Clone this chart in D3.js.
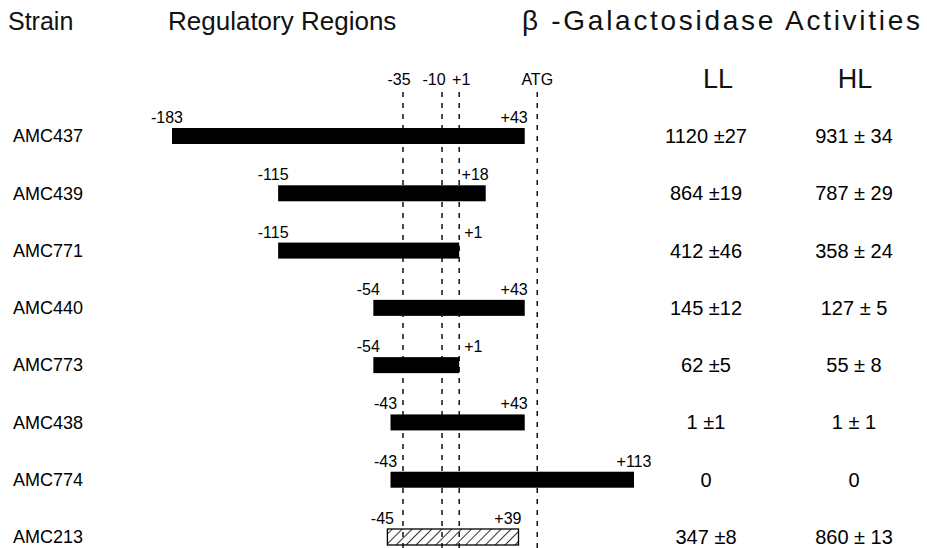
<!DOCTYPE html>
<html>
<head>
<meta charset="utf-8">
<script src="https://cdn.jsdelivr.net/npm/d3@7"></script>
<style>
  body { margin: 0; background: #fff; }
  svg { font-family: "Liberation Sans", Arial, Helvetica, sans-serif; }
</style>
</head>
<body>
<div id="chart"></div>
<script>
// data
const strains = ['AMC437', 'AMC439', 'AMC771', 'AMC440', 'AMC773', 'AMC438', 'AMC774', 'AMC213'];
const regionStart = [-183, -115, -115, -54, -54, -43, -43, -45];
const regionEnd = [43, 18, 1, 43, 1, 43, 113, 39];
const hatched = [false, false, false, false, false, false, false, true];
const llMean = [1120, 864, 412, 145, 62, 1, 0, 347];
const llSd = [27, 19, 46, 12, 5, 1, null, 8];
const hlMean = [931, 787, 358, 127, 55, 1, 0, 860];
const hlSd = [34, 29, 24, 5, 8, 1, null, 13];
const markers = [
  { label: '-35', pos: -35 },
  { label: '-10', pos: -10 },
  { label: '+1', pos: 1 },
  { label: 'ATG', pos: 51 },
];

const rows = strains.map((s, i) => ({
  strain: s,
  start: regionStart[i],
  end: regionEnd[i],
  hatched: hatched[i],
  ll: llMean[i],
  llSd: llSd[i],
  hl: hlMean[i],
  hlSd: hlSd[i],
}));

const width = 927;
const height = 548;

const svg = d3.select('#chart').append('svg')
  .attr('width', width)
  .attr('height', height);

const defs = svg.append('defs');
defs.append('pattern')
  .attr('id', 'hatch')
  .attr('patternUnits', 'userSpaceOnUse')
  .attr('width', 7)
  .attr('height', 7)
  .attr('patternTransform', 'rotate(45)')
  .append('line')
  .attr('x1', 0).attr('y1', 0)
  .attr('x2', 0).attr('y2', 7)
  .attr('stroke', '#000')
  .attr('stroke-width', 1.6);

// nucleotide position -> px
const x = d3.scaleLinear().domain([-183, 113]).range([172, 634]);
const y = d3.scalePoint().domain(strains).range([136, 537]);
const barH = 16;

// headers
const header = svg.append('g').attr('font-size', 26).attr('fill', '#111');
header.append('text').attr('x', 8).attr('y', 30).attr('font-size', 25).text('Strain');
header.append('text').attr('x', 168).attr('y', 30).text('Regulatory Regions');
header.append('text').attr('x', 522).attr('y', 30)
  .attr('font-size', 28)
  .attr('textLength', 398)
  .attr('lengthAdjust', 'spacing')
  .text('β -Galactosidase Activities');
header.append('text').attr('x', 718).attr('y', 88).attr('text-anchor', 'middle').attr('font-size', 27).text('LL');
header.append('text').attr('x', 855).attr('y', 88).attr('text-anchor', 'middle').attr('font-size', 27).text('HL');

// promoter markers: dashed guides
const mk = svg.append('g');
mk.selectAll('line')
  .data(markers)
  .join('line')
  .attr('x1', d => x(d.pos))
  .attr('x2', d => x(d.pos))
  .attr('y1', 92)
  .attr('y2', height)
  .attr('stroke', '#000')
  .attr('stroke-width', 1.4)
  .attr('stroke-dasharray', '5,6');

// labels are crowded, so -10 shifts left a bit
const markerNudge = { '-35': -4, '-10': -8, '+1': 2, 'ATG': 0 };
mk.selectAll('text')
  .data(markers)
  .join('text')
  .attr('x', d => x(d.pos) + markerNudge[d.label])
  .attr('y', 85)
  .attr('text-anchor', 'middle')
  .attr('font-size', 16)
  .text(d => d.label);

// strain names
svg.append('g')
  .selectAll('text')
  .data(rows)
  .join('text')
  .attr('x', 13)
  .attr('y', d => y(d.strain))
  .attr('dy', '0.35em')
  .attr('font-size', 18)
  .text(d => d.strain);

// regions
const bars = svg.append('g')
  .selectAll('g')
  .data(rows)
  .join('g');

bars.append('rect')
  .attr('x', d => x(d.start))
  .attr('width', d => x(d.end) - x(d.start))
  .attr('y', d => y(d.strain) - barH / 2)
  .attr('height', barH)
  .attr('fill', d => d.hatched ? 'url(#hatch)' : '#000')
  .attr('stroke', d => d.hatched ? '#000' : 'none')
  .attr('stroke-width', 1.3);

const fmt = v => (v > 0 ? '+' : '') + v;

bars.append('text')
  .attr('x', d => x(d.start) - 5)
  .attr('y', d => y(d.strain) - barH / 2 - 5)
  .attr('text-anchor', 'middle')
  .attr('font-size', 16)
  .text(d => fmt(d.start));

// end labels: keep clear of the +1 and ATG guides
bars.append('text')
  .attr('x', d => {
    if (d.end <= 1) return x(d.end) + 5;
    if (d.end > 51) return x(d.end);
    return x(d.end) + 3;
  })
  .attr('text-anchor', d => d.end <= 1 ? 'start' : d.end > 51 ? 'middle' : 'end')
  .attr('y', d => y(d.strain) - barH / 2 - 5)
  .attr('font-size', 16)
  .text(d => fmt(d.end));

// activities
const vals = svg.append('g').attr('font-size', 20);
vals.selectAll('.ll')
  .data(rows)
  .join('text')
  .attr('class', 'll')
  .attr('x', 706)
  .attr('y', d => y(d.strain))
  .attr('dy', '0.35em')
  .attr('text-anchor', 'middle')
  .text(d => d.llSd == null ? `${d.ll}` : `${d.ll} ±${d.llSd}`);

vals.selectAll('.hl')
  .data(rows)
  .join('text')
  .attr('class', 'hl')
  .attr('x', 854)
  .attr('y', d => y(d.strain))
  .attr('dy', '0.35em')
  .attr('text-anchor', 'middle')
  .text(d => d.hlSd == null ? `${d.hl}` : `${d.hl} ± ${d.hlSd}`);
</script>
</body>
</html>
